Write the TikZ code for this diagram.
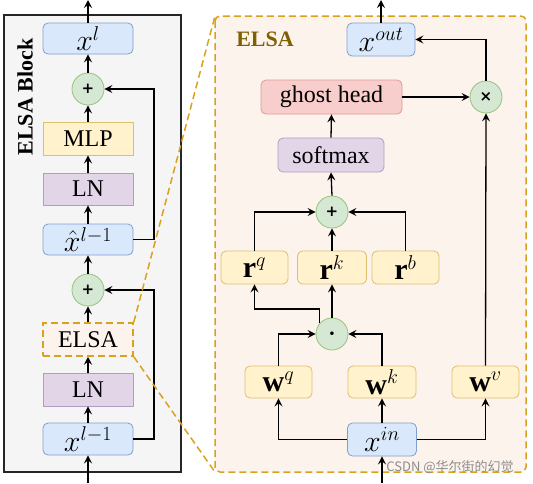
\RequirePackage{fix-cm}
\documentclass[tikz,border=0pt]{standalone}
\usepackage{amsmath}
\usepackage{fontspec}
\setmainfont{Liberation Serif}
\newfontfamily\symf{DejaVu Sans}
\newfontfamily\cjk{Noto Sans CJK SC}
\DeclareMathSizes{30}{30}{20}{14}
\usetikzlibrary{arrows.meta,calc}
\definecolor{blueF}{HTML}{DAE8FC}\definecolor{blueD}{HTML}{7EA0CF}
\definecolor{yelF}{HTML}{FFF2CC}\definecolor{yelD}{HTML}{DDC06E}
\definecolor{purF}{HTML}{E1D5E7}\definecolor{purD}{HTML}{B49BC4}
\definecolor{redF}{HTML}{F8CECC}\definecolor{redD}{HTML}{E09A94}
\definecolor{grnF}{HTML}{D5E8D4}\definecolor{grnD}{HTML}{97C27E}
\definecolor{peach}{HTML}{FDF3ED}\definecolor{orD}{HTML}{D9A21E}
\definecolor{gold}{HTML}{7F6000}\definecolor{panelF}{HTML}{F5F5F5}
\tikzset{
  x=1pt,y=-1pt,
  every node/.style={font=\fontsize{24}{28}\selectfont, inner sep=0pt},
  mth/.style={font=\fontsize{30}{32}\selectfont},
  box/.style={draw, line width=0.8pt, minimum width=#1, minimum height=33pt},
  blue/.style={box=#1, fill=blueF, draw=blueD, rounded corners=5pt, mth},
  yel/.style={box=#1, fill=yelF, draw=yelD},
  yelr/.style={box=#1, fill=yelF, draw=yelD, rounded corners=5pt, mth},
  pur/.style={box=#1, fill=purF, draw=purD},
  purr/.style={box=#1, fill=purF, draw=purD, rounded corners=5pt},
  redb/.style={box=#1, fill=redF, draw=redD, rounded corners=5pt},
  op/.style={circle, draw=grnD, fill=grnF, line width=0.8pt, minimum size=32pt,
    font=\symf\bfseries\fontsize{15}{15}\selectfont},
  arr/.style={draw=black, line width=1.3pt, -{Stealth[length=8pt,width=8pt,inset=3pt]}},
  zdash/.style={draw=orD, line width=1.5pt, dash pattern=on 7pt off 4pt},
}
\begin{document}
\begin{tikzpicture}
\useasboundingbox (0,0) rectangle (533,483);
% left panel
\draw[fill=panelF, draw=black!85, line width=1.3pt] (4,15) rectangle (181,472);
\node[rotate=90, font=\bfseries\fontsize{22}{26}\selectfont] (blk) at (25,97) {ELSA Block};
\node[blue=90pt, minimum height=31pt] (xl) at (88,38.5) {$x^{l}$};
\node[op] (p1) at (88,89) {+};
\node[yel=90pt] (mlp) at (88,138.5) {MLP};
\node[pur=90pt, minimum height=32pt] (ln1) at (88,189) {LN};
\node[blue=90pt, minimum height=31pt] (xh) at (88,239.5) {$\hat{x}^{l-1}$};
\node[op] (p2) at (88,290) {+};
\node[box=90pt, fill=peach, zdash] (elsa) at (88,339.5) {ELSA};
\node[pur=90pt] (ln2) at (88,389.5) {LN};
\node[blue=90pt, minimum height=32pt] (xlm) at (88,439) {$x^{l-1}$};
\coordinate (ltop) at (88,0);
\coordinate (lbot) at (88,483);
\coordinate (s1) at (154,0);
\draw[arr] (xl.north) -- (ltop);
\draw[arr] (p1) -- (xl);
\draw[arr] (mlp) -- (p1);
\draw[arr] (ln1) -- (mlp);
\draw[arr] (xh) -- (ln1);
\draw[arr] (p2) -- (xh);
\draw[arr] (elsa) -- (p2);
\draw[arr] (ln2) -- (elsa);
\draw[arr] (xlm) -- (ln2);
\draw[arr] (lbot) -- (xlm.south);
\draw[arr] (xh.east) -- (xh.east -| s1) |- (p1.east);
\draw[arr] (xlm.east) -- (xlm.east -| s1) |- (p2.east);
% right panel
\draw[zdash, fill=peach, rounded corners=5pt] (215,16) rectangle (526,472);
\coordinate (rtl) at (215,16);
\coordinate (rbl) at (215,472);
\draw[zdash] (elsa.north east) -- (rtl);
\draw[zdash] (elsa.south east) -- (rbl);
\node[font=\bfseries\fontsize{22}{26}\selectfont, text=gold] (lab) at (265,39) {ELSA};
\node[blue=68pt] (xout) at (381,39.5) {$x^{out}$};
\node[redb=141pt, minimum height=34pt] (gh) at (331.5,97) {ghost head};
\node[op] (tm) at (486,97) {×};
\node[purr=106pt, minimum height=34pt] (sm) at (331,155) {softmax};
\node[op] (p3) at (332,212) {+};
\node[yelr=67pt] (rq) at (254.5,267.5) {$\mathbf{r}^{q}$};
\node[yelr=69pt] (rk) at (332,267.5) {$\mathbf{r}^{k}$};
\node[yelr=67pt] (rb) at (405.5,267.5) {$\mathbf{r}^{b}$};
\node[op, font=\fontsize{23}{23}\selectfont] (dt) at (332,334) {$\boldsymbol{\cdot}$};
\node[yelr=67pt, minimum height=32pt] (wq) at (278.5,382) {$\mathbf{w}^{q}$};
\node[yelr=68pt, minimum height=32pt] (wk) at (382,382) {$\mathbf{w}^{k}$};
\node[yelr=67pt, minimum height=32pt] (wv) at (485.5,382) {$\mathbf{w}^{v}$};
\node[blue=69pt] (xin) at (382,439.5) {$x^{in}$};
\coordinate (rtop) at (381,0);
\coordinate (rbot) at (382,483);
\coordinate (c1) at (320,309);
\draw[arr] (xout.north) -- (rtop);
\draw[arr] (tm.north) |- (xout.east);
\draw[arr] (gh.east) -- (tm.west);
\draw[arr] (sm.north) -- (gh.south);
\draw[arr] (p3.north) -- (sm.south);
\draw[arr] (rq.north) |- (p3.west);
\draw[arr] (rb.north) |- (p3.east);
\draw[arr] (rk.north) -- (p3.south);
\draw[arr] (dt.north) -- (rk.south);
\draw[arr] (dt.139) -- (dt.139 |- c1) -| (rq.south);
\draw[arr] (wq.north) |- (dt.west);
\draw[arr] (wk.north) |- (dt.east);
\draw[arr] (wv.north) -- (tm.south);
\draw[arr] (xin.north) -- (wk.south);
\draw[arr] (xin.west) -| (wq.south);
\draw[arr] (xin.east) -| (wv.south);
\draw[arr] (rbot) -- (xin.south);
\node[font=\cjk\fontsize{13}{13}\selectfont, text=black!45] (wm) at (450,467) {CSDN @华尔街的幻觉};
\end{tikzpicture}
\end{document}
